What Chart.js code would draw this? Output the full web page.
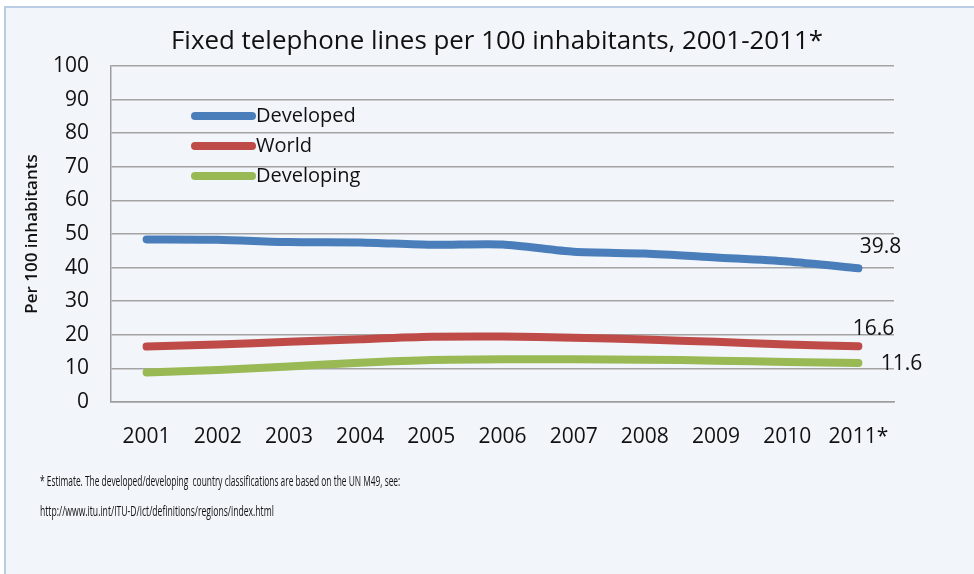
<!DOCTYPE html>
<html>
<head>
<meta charset="utf-8">
<script src="https://cdn.jsdelivr.net/npm/chart.js@4.4.1/dist/chart.umd.min.js"></script>
<style>
  html, body { margin: 0; padding: 0; background: #fff; overflow: hidden; }
  #frame { position: absolute; left: 4px; top: 6px; width: 980px; height: 580px;
           background: #f2f5fa; border-left: 2px solid #b9cde5; border-top: 2px solid #b9cde5; }
  #wrap { position: absolute; left: 0; top: 0; width: 974px; height: 574px; }
  .note { position: absolute; left: 40px; font-family: 'Open Sans', sans-serif; font-size: 15px;
          line-height: 20px; color: #111; transform-origin: 0 50%; white-space: pre; }
</style>
</head>
<body>
<div id="frame"></div>
<div id="wrap"><canvas id="mychart"></canvas></div>
<div class="note" id="note1" style="top:470px">* Estimate. The developed/developing  country classifications are based on the UN M49, see:</div>
<div class="note" id="note2" style="top:500px">http://www.itu.int/ITU-D/ict/definitions/regions/index.html</div>
<script>
const years = ['2001', '2002', '2003', '2004', '2005', '2006', '2007', '2008', '2009', '2010', '2011*'];
const developed = [48.4, 48.3, 47.6, 47.5, 46.8, 46.9, 44.7, 44.2, 43.0, 41.8, 39.8];
const world = [16.5, 17.1, 17.9, 18.7, 19.4, 19.5, 19.1, 18.6, 17.9, 17.1, 16.6];
const developing = [8.8, 9.5, 10.6, 11.7, 12.5, 12.7, 12.7, 12.6, 12.3, 11.9, 11.6];
const seriesNames = ['Developed', 'World', 'Developing'];
const seriesColors = ['#4a7ebb', '#be4b48', '#98b954'];
const titleText = 'Fixed telephone lines per 100 inhabitants, 2001-2011*';

// squeeze the footnote lines to their narrow width
function fitNote(id, w) {
    const el = document.getElementById(id);
    el.style.transform = 'scaleX(' + (w / el.offsetWidth) + ')';
}
fitNote('note1', 360);
fitNote('note2', 234);

// end-of-line value labels, offsets per series
const labelOffsets = [[22, -21], [15, -17], [43, 1]];

const extras = {
    id: 'extras',
    afterDraw(chart) {
        const c = chart.ctx;
        const area = chart.chartArea;
        c.save();
        // title, narrowed to fit
        c.font = '25px "Open Sans"';
        c.fillStyle = '#111';
        c.textBaseline = 'alphabetic';
        c.textAlign = 'center';
        const tw = c.measureText(titleText).width;
        c.translate(497, 49);
        c.scale(652 / tw, 1);
        c.fillText(titleText, 0, 0);
        c.restore();

        c.save();
        // legend inside the plot
        c.font = '20px "Open Sans"';
        c.textBaseline = 'middle';
        c.textAlign = 'left';
        chart.data.datasets.forEach((ds, i) => {
            const y = area.top + 50 + i * 30;
            const x = area.left + 84;
            c.strokeStyle = ds.borderColor;
            c.lineWidth = 8;
            c.lineCap = 'round';
            c.beginPath();
            c.moveTo(x, y);
            c.lineTo(x + 57, y);
            c.stroke();
            c.fillStyle = '#111';
            c.fillText(ds.label, x + 61, y);
        });
        // value labels at the last point
        c.font = '21px "Open Sans"';
        c.textAlign = 'center';
        chart.data.datasets.forEach((ds, i) => {
            const meta = chart.getDatasetMeta(i);
            const last = ds.data.length - 1;
            const pt = meta.data[last];
            c.fillText(ds.data[last].toFixed(1), pt.x + labelOffsets[i][0], pt.y + labelOffsets[i][1]);
        });
        c.restore();
    }
};

const ctx = document.getElementById('mychart');
var chart = new Chart(ctx, {
    type: 'line',
    data: {
        labels: years,
        datasets: [developed, world, developing].map((d, i) => ({
            label: seriesNames[i],
            data: d,
            borderColor: seriesColors[i],
            backgroundColor: seriesColors[i],
            borderWidth: 8,
            borderCapStyle: 'round',
            borderJoinStyle: 'round',
            tension: 0.25,
            pointRadius: 0,
            pointHoverRadius: 0,
        })),
    },
    options: {
        responsive: true,
        maintainAspectRatio: false,
        animation: false,
        events: [],
        layout: {
            padding: { top: 66, right: 80, bottom: 0, left: 0 }
        },
        plugins: {
            legend: { display: false },
            tooltip: { enabled: false },
            title: { display: false },
        },
        scales: {
            x: {
                offset: true,
                grid: { display: false, drawTicks: false },
                border: { display: true, color: '#9e9e9e', width: 1.5 },
                ticks: {
                    padding: 22,
                    color: '#111',
                    font: { family: 'Open Sans', size: 21 },
                    maxRotation: 0,
                },
                afterFit(scale) { scale.height = 172; },
            },
            y: {
                min: 0,
                max: 100,
                border: { display: true, color: '#9e9e9e', width: 1.5 },
                grid: { color: '#a3a3a3', lineWidth: 1.5, drawTicks: false },
                ticks: {
                    stepSize: 10,
                    padding: 22,
                    color: '#111',
                    font: { family: 'Open Sans', size: 21 },
                },
                title: {
                    display: true,
                    text: 'Per 100 inhabitants',
                    color: '#111',
                    padding: { top: 22, bottom: 0 },
                    font: { family: 'Open Sans', size: 17, weight: '600' },
                },
                afterFit(scale) { scale.width = 111; },
            }
        },
    },
    plugins: [extras]
});
</script>
</body>
</html>
